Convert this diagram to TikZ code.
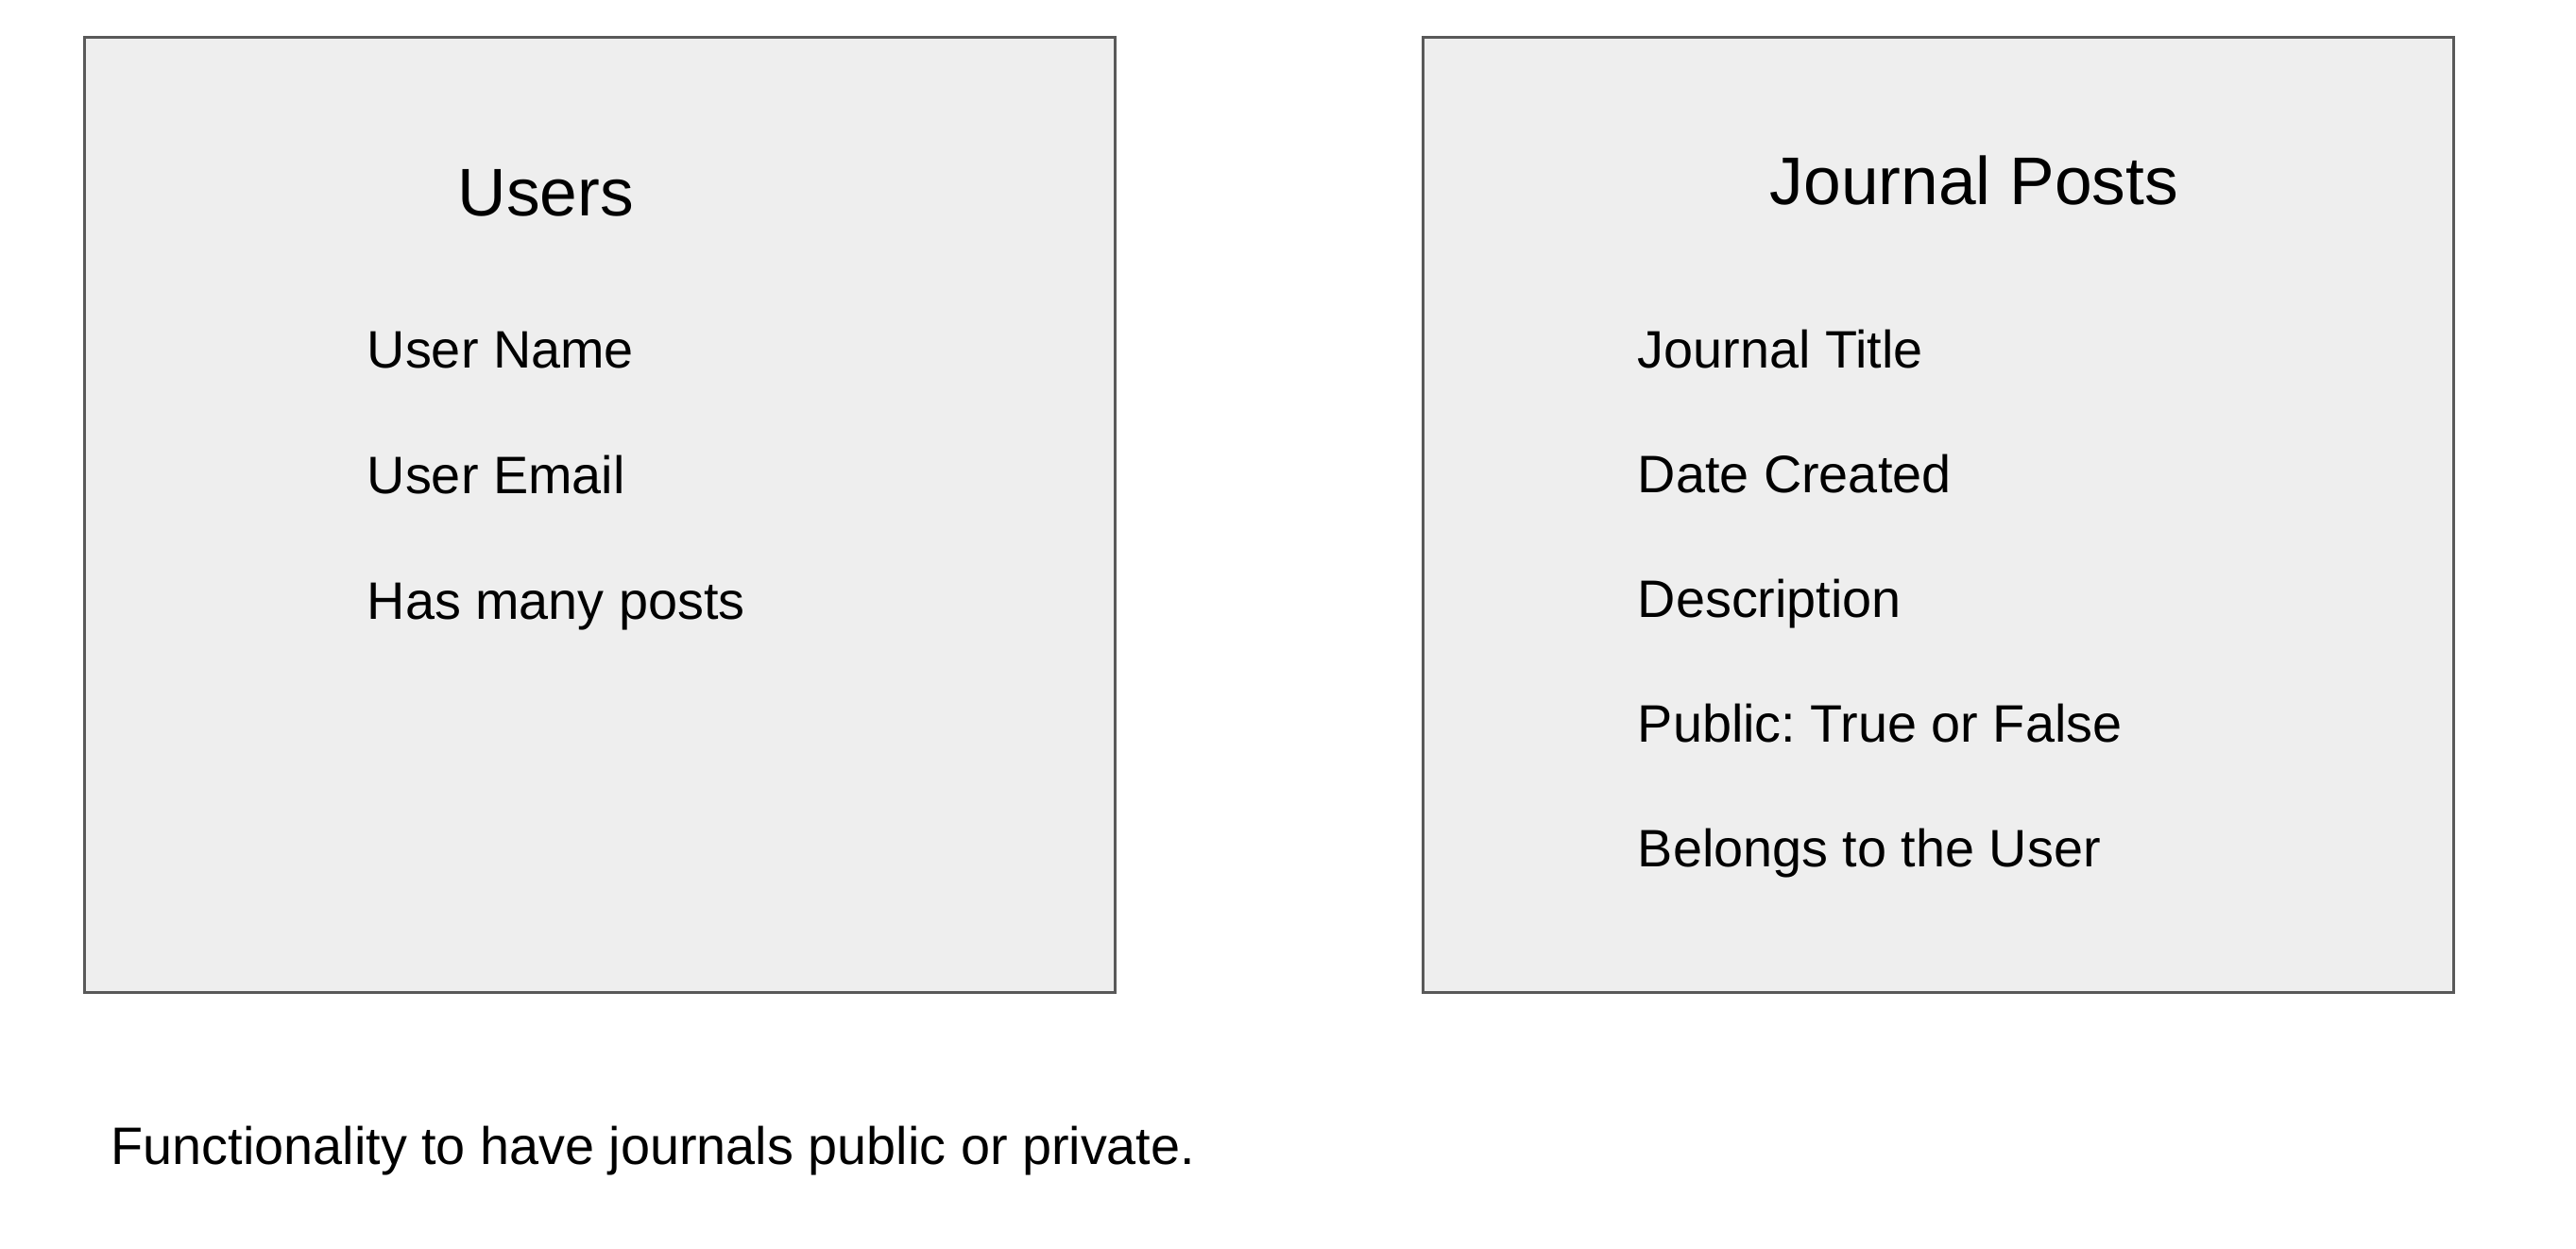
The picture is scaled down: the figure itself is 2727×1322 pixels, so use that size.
\documentclass[tikz,border=0pt]{standalone}
\usepackage{fontspec}
\setmainfont{Liberation Sans}
\frenchspacing
\definecolor{boxfill}{HTML}{EEEEEE}
\definecolor{boxline}{HTML}{595959}
\begin{document}
\begin{tikzpicture}[x=0.25bp,y=-0.25bp,
  entity/.style={draw=boxline,fill=boxfill,line width=0.75bp},
  titletext/.style={anchor=base west,inner sep=0pt,font=\fontsize{17.9}{20}\selectfont},
  fieldtext/.style={anchor=base west,inner sep=0pt,font=\fontsize{14}{16}\selectfont}]
\useasboundingbox (0,0) rectangle (2727,1322);
\fill[white] (0,0) rectangle (2727,1322);
% Users entity
\draw[entity] (89.5,39.5) rectangle (1180,1050);
\node[titletext] (users) at (484,229) {Users};
\node[fieldtext] (uname) at (388,389) {User Name};
\node[fieldtext] (uemail) at (388,522) {User Email};
\node[fieldtext] (uposts) at (388,655) {Has many posts};
% Journal Posts entity
\draw[entity] (1506,39.5) rectangle (2597,1050);
\node[titletext] (posts) at (1873,217) {Journal Posts};
\node[fieldtext] (ptitle) at (1733,389) {Journal Title};
\node[fieldtext] (pdate) at (1733,521) {Date Created};
\node[fieldtext] (pdesc) at (1733,653) {Description};
\node[fieldtext] (ppublic) at (1733,785) {Public: True or False};
\node[fieldtext] (pbelongs) at (1733,917) {Belongs to the User};
% note
\node[fieldtext] (note) at (117,1232) {Functionality to have journals public or private.};
\end{tikzpicture}
\end{document}
